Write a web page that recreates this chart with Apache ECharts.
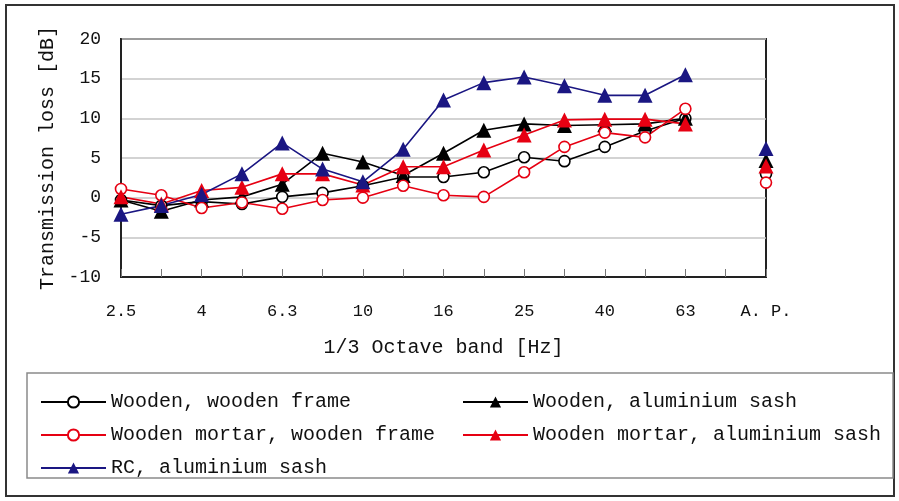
<!DOCTYPE html>
<html>
<head>
<meta charset="utf-8">
<script src="https://cdn.jsdelivr.net/npm/echarts@6/dist/echarts.min.js"></script>
<style>
html,body{margin:0;padding:0;background:#fff;}
#chart{width:899px;height:501px;}
</style>
</head>
<body>
<div id="chart"></div>
<script>
// Categories (1/3 octave band, Hz) with a gap before A.P.
var categories = ['2.5','3.15','4','5','6.3','8','10','12.5','16','20','25','31.5','40','50','63','','A. P.'];
var yTicks = [-10, -5, 0, 5, 10, 15, 20];

var seriesNames = [
  'Wooden, wooden frame',
  'Wooden, aluminium sash',
  'Wooden mortar, wooden frame',
  'Wooden mortar, aluminium sash',
  'RC, aluminium sash'
];

var woodenWoodenFrame   = [-0.3, -1.0, -0.5, -0.8, 0.1, 0.6, 1.5, 2.6, 2.6, 3.2, 5.1, 4.6, 6.4, 8.4, 10.0, null, 3.0];
var woodenAlumSash      = [-0.3, -1.7, -0.3, 0.1, 1.7, 5.6, 4.5, 2.8, 5.6, 8.5, 9.3, 9.1, 9.2, 9.3, 10.0, null, 4.7];
var mortarWoodenFrame   = [1.1, 0.3, -1.3, -0.6, -1.4, -0.3, 0.0, 1.5, 0.3, 0.1, 3.2, 6.4, 8.2, 7.6, 11.2, null, 1.9];
var mortarAlumSash      = [0.1, -0.8, 0.9, 1.3, 3.0, 3.0, 1.6, 3.9, 3.9, 6.0, 7.9, 9.8, 9.9, 9.9, 9.3, null, 4.0];
var rcAlumSash          = [-2.1, -1.0, 0.4, 3.0, 6.9, 3.6, 2.0, 6.1, 12.3, 14.5, 15.2, 14.1, 12.9, 12.9, 15.5, null, 6.2];

var FONT = 'Liberation Mono';
var BLACK = '#000000', RED = '#e60012', BLUE = '#1a1682';

function mkSeries(name, data, color, hollow) {
  return {
    name: name,
    type: 'line',
    data: data,
    connectNulls: false,
    showAllSymbol: true,
    symbol: hollow ? 'circle' : 'triangle',
    symbolSize: hollow ? 11 : 15,
    lineStyle: { color: color, width: 1.6 },
    itemStyle: hollow ? { color: '#ffffff', borderColor: color, borderWidth: 1.6 }
                      : { color: color, borderColor: color, borderWidth: 0 },
    emphasis: { disabled: true },
    animation: false
  };
}

var chart = echarts.init(document.getElementById('chart'), null, { renderer: 'canvas' });
chart.setOption({
  backgroundColor: '#ffffff',
  animation: false,
  textStyle: { fontFamily: FONT },
  graphic: [
    { type: 'rect', shape: { x: 6, y: 5, width: 888, height: 491 },
      style: { fill: 'none', stroke: '#333', lineWidth: 2 }, z: -10 },
    { type: 'rect', shape: { x: 27, y: 373, width: 866, height: 105 },
      style: { fill: 'none', stroke: '#8a8a8a', lineWidth: 1.5 }, z: -10 }
  ],
  grid: { left: 121, top: 39, right: 133, bottom: 224, show: true,
          borderColor: '#222', borderWidth: 2, backgroundColor: 'transparent' },
  xAxis: {
    type: 'category',
    data: categories,
    boundaryGap: false,
    axisLine: { onZero: false, lineStyle: { color: '#222', width: 2 } },
    axisTick: { show: true, inside: true, length: 8, interval: 0, lineStyle: { color: '#777', width: 1 } },
    axisLabel: { interval: 1, color: '#111', fontSize: 17, fontFamily: FONT, margin: 26 },
    splitLine: { show: false },
    name: '1/3 Octave band [Hz]',
    nameLocation: 'middle',
    nameGap: 61,
    nameTextStyle: { color: '#111', fontSize: 20, fontFamily: FONT }
  },
  yAxis: {
    type: 'value',
    min: yTicks[0],
    max: yTicks[yTicks.length - 1],
    interval: 5,
    axisLine: { show: true, lineStyle: { color: '#222', width: 2 } },
    axisTick: { show: false },
    axisLabel: { color: '#111', fontSize: 18, fontFamily: FONT, margin: 20 },
    splitLine: { show: true, lineStyle: { color: '#c4c4c4', width: 1.5 } },
    name: 'Transmission loss [dB]',
    nameLocation: 'middle',
    nameRotate: 90,
    nameGap: 62,
    nameTextStyle: { color: '#111', fontSize: 20, fontFamily: FONT }
  },
  legend: [
    { orient: 'vertical', left: 35, top: 386, itemGap: 11, itemWidth: 65, itemHeight: 14,
      selectedMode: false,
      data: [seriesNames[0], seriesNames[2], seriesNames[4]],
      textStyle: { fontSize: 20, fontFamily: FONT, color: '#111', lineHeight: 22 } },
    { orient: 'vertical', left: 457, top: 386, itemGap: 11, itemWidth: 65, itemHeight: 14,
      selectedMode: false,
      data: [seriesNames[1], seriesNames[3]],
      textStyle: { fontSize: 20, fontFamily: FONT, color: '#111', lineHeight: 22 } }
  ],
  series: [
    mkSeries(seriesNames[0], woodenWoodenFrame, BLACK, true),
    mkSeries(seriesNames[1], woodenAlumSash, BLACK, false),
    mkSeries(seriesNames[2], mortarWoodenFrame, RED, true),
    mkSeries(seriesNames[3], mortarAlumSash, RED, false),
    mkSeries(seriesNames[4], rcAlumSash, BLUE, false)
  ]
});
</script>
</body>
</html>
